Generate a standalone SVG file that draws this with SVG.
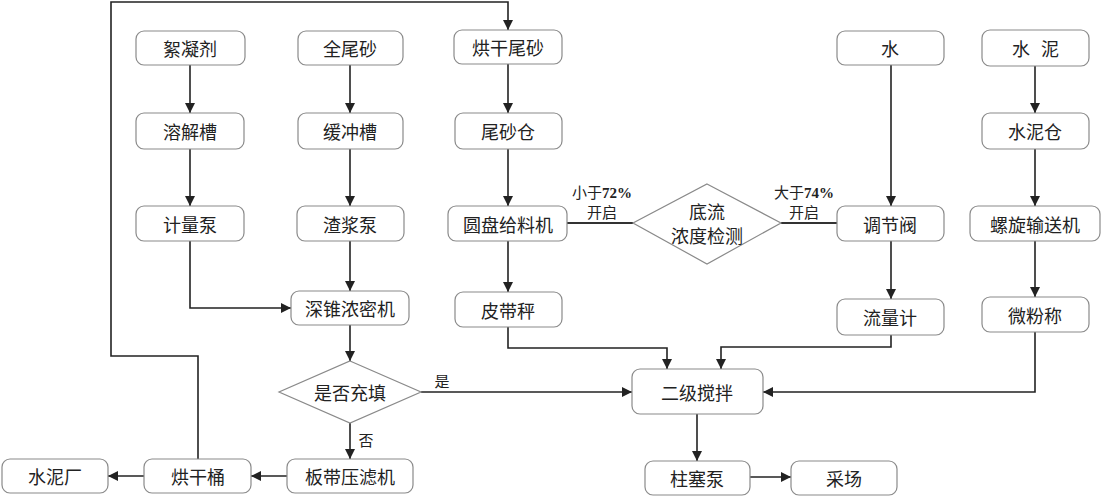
<svg xmlns="http://www.w3.org/2000/svg" width="1103" height="497" viewBox="0 0 1103 497">
<style>
.b{fill:#fff;stroke:#8a8a8a;stroke-width:1.2}
.d{fill:#fff;stroke:#8a8a8a;stroke-width:1.2}
.t{font-family:"Noto Sans CJK SC","Liberation Sans",sans-serif;font-size:18px;fill:#222;text-anchor:middle;dominant-baseline:central}
.l{font-family:"Noto Sans CJK SC","Liberation Serif",sans-serif;font-size:15px;fill:#222;text-anchor:middle}
.n{font-family:"Liberation Serif",serif;font-weight:bold}
.c{fill:none;stroke:#222;stroke-width:1.6}
.c2{fill:none;stroke:#333;stroke-width:2.2}
</style>
<defs>
<marker id="a" viewBox="0 0 10 10" refX="10" refY="5" markerWidth="10" markerHeight="10" markerUnits="userSpaceOnUse" orient="auto">
<path d="M0,0 L10,5 L0,10 z" fill="#222"/>
</marker>
</defs>
<rect width="1103" height="497" fill="#fff"/>
<g id="connectors">
<path class="c" marker-end="url(#a)" d="M190,65 V113"/>
<path class="c" marker-end="url(#a)" d="M190,149 V206"/>
<path class="c" marker-end="url(#a)" d="M190,241 V308 H291"/>
<path class="c" marker-end="url(#a)" d="M350,65 V113"/>
<path class="c" marker-end="url(#a)" d="M350,149 V206"/>
<path class="c" marker-end="url(#a)" d="M350,241 V291"/>
<path class="c" marker-end="url(#a)" d="M350,325 V361"/>
<path class="c" marker-end="url(#a)" d="M350,423 V459"/>
<path class="c" marker-end="url(#a)" d="M421,392 H632"/>
<path class="c" marker-end="url(#a)" d="M287,476 H251"/>
<path class="c" marker-end="url(#a)" d="M144,476 H108"/>
<path class="c" marker-end="url(#a)" d="M198,459 V356 H111 V2 H508 V30"/>
<path class="c" marker-end="url(#a)" d="M508,64 V113"/>
<path class="c" marker-end="url(#a)" d="M508,149 V206"/>
<path class="c" marker-end="url(#a)" d="M508,241 V292"/>
<path class="c" marker-end="url(#a)" d="M508,327 V348 H667 V369"/>
<path class="c" marker-end="url(#a)" d="M891,335 V347 H721 V369"/>
<path class="c" marker-end="url(#a)" d="M1035,332 V392 H763"/>
<path class="c" marker-end="url(#a)" d="M891,65 V206"/>
<path class="c" marker-end="url(#a)" d="M891,241 V299"/>
<path class="c" marker-end="url(#a)" d="M1035,66 V113"/>
<path class="c" marker-end="url(#a)" d="M1035,149 V206"/>
<path class="c" marker-end="url(#a)" d="M1035,241 V297"/>
<path class="c2" d="M567,223 H633"/>
<path class="c2" d="M781,223 H837"/>
<path class="c" marker-end="url(#a)" d="M697,414 V461"/>
<path class="c" marker-end="url(#a)" d="M750,477 H791"/>
<text class="l" x="602" y="198">小于<tspan class="n">72%</tspan></text>
<text class="l" x="602" y="218">开启</text>
<text class="l" x="804" y="198">大于<tspan class="n">74%</tspan></text>
<text class="l" x="804" y="218">开启</text>
<text class="l" x="442" y="387">是</text>
<text class="l" x="366" y="446">否</text>
</g>
<g id="n1"><rect class="b" x="136" y="31" width="109" height="34" rx="8"/><text class="t" x="190" y="48">絮凝剂</text></g>
<g id="n2"><rect class="b" x="298" y="31" width="105" height="34" rx="8"/><text class="t" x="350" y="48">全尾砂</text></g>
<g id="n3"><rect class="b" x="454" y="30" width="108" height="34" rx="8"/><text class="t" x="508" y="47">烘干尾砂</text></g>
<g id="n4"><rect class="b" x="837" y="31" width="107" height="34" rx="8"/><text class="t" x="890" y="48">水</text></g>
<g id="n5"><rect class="b" x="982" y="30" width="107" height="36" rx="8"/><text class="t" x="1035" y="48"><tspan x="1021">水</tspan><tspan x="1050">泥</tspan></text></g>
<g id="n6"><rect class="b" x="136" y="113" width="108" height="36" rx="8"/><text class="t" x="190" y="131">溶解槽</text></g>
<g id="n7"><rect class="b" x="298" y="113" width="105" height="36" rx="8"/><text class="t" x="350" y="131">缓冲槽</text></g>
<g id="n8"><rect class="b" x="455" y="113" width="107" height="36" rx="8"/><text class="t" x="508" y="131">尾砂仓</text></g>
<g id="n9"><rect class="b" x="982" y="113" width="107" height="36" rx="8"/><text class="t" x="1035" y="131">水泥仓</text></g>
<g id="n10"><rect class="b" x="136" y="206" width="108" height="35" rx="8"/><text class="t" x="190" y="223.5">计量泵</text></g>
<g id="n11"><rect class="b" x="297" y="206" width="107" height="35" rx="8"/><text class="t" x="350" y="223.5">渣浆泵</text></g>
<g id="n12"><rect class="b" x="448" y="206" width="119" height="35" rx="8"/><text class="t" x="508" y="223.5">圆盘给料机</text></g>
<g id="n13"><polygon class="d" points="707,184 781,223 707,264 633,223"/><text class="t" x="707" y="211">底流</text><text class="t" x="707" y="235">浓度检测</text></g>
<g id="n14"><rect class="b" x="837" y="206" width="107" height="35" rx="8"/><text class="t" x="890" y="223.5">调节阀</text></g>
<g id="n15"><rect class="b" x="970" y="206" width="130" height="35" rx="8"/><text class="t" x="1035" y="223.5">螺旋输送机</text></g>
<g id="n16"><rect class="b" x="291" y="291" width="118" height="34" rx="8"/><text class="t" x="350" y="308">深锥浓密机</text></g>
<g id="n17"><rect class="b" x="455" y="292" width="107" height="35" rx="8"/><text class="t" x="508" y="309.5">皮带秤</text></g>
<g id="n18"><rect class="b" x="837" y="299" width="107" height="36" rx="8"/><text class="t" x="890" y="317">流量计</text></g>
<g id="n19"><rect class="b" x="982" y="297" width="107" height="35" rx="8"/><text class="t" x="1035" y="314.5">微粉称</text></g>
<g id="n20"><polygon class="d" points="350,361 421,392 350,423 279,392"/><text class="t" x="350" y="392">是否充填</text></g>
<g id="n21"><rect class="b" x="632" y="369" width="131" height="45" rx="8"/><text class="t" x="697" y="391.5">二级搅拌</text></g>
<g id="n22"><rect class="b" x="2" y="459" width="106" height="34" rx="8"/><text class="t" x="55" y="476">水泥厂</text></g>
<g id="n23"><rect class="b" x="144" y="459" width="107" height="34" rx="8"/><text class="t" x="198" y="476">烘干桶</text></g>
<g id="n24"><rect class="b" x="287" y="459" width="126" height="34" rx="8"/><text class="t" x="350" y="476">板带压滤机</text></g>
<g id="n25"><rect class="b" x="645" y="461" width="105" height="34" rx="8"/><text class="t" x="697" y="478">柱塞泵</text></g>
<g id="n26"><rect class="b" x="791" y="461" width="106" height="34" rx="8"/><text class="t" x="844" y="478">采场</text></g>
</svg>
